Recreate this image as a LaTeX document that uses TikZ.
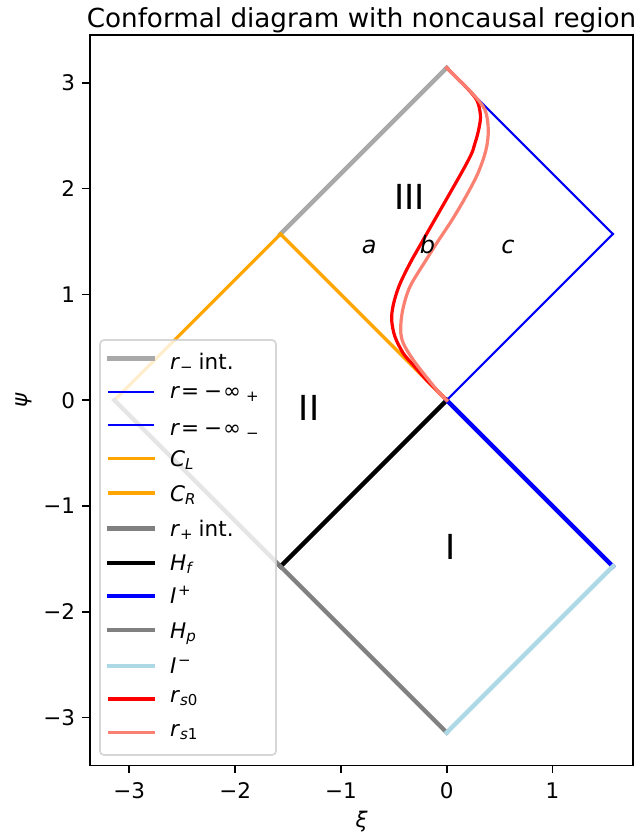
\documentclass[tikz,border=0pt]{standalone}
\usepackage{fontspec}
\setmainfont{DejaVu Sans}
\definecolor{mdarkgray}{HTML}{A9A9A9}
\definecolor{mgray}{HTML}{808080}
\definecolor{morange}{HTML}{FFA500}
\definecolor{mlightblue}{HTML}{ADD8E6}
\definecolor{msalmon}{HTML}{FA8072}
\definecolor{mblue}{HTML}{0000FF}
\definecolor{mred}{HTML}{FF0000}
\definecolor{legedge}{HTML}{CCCCCC}
\newcommand\lsb[1]{\raisebox{-3.2pt}{\fontsize{15}{15}\selectfont #1}}
\newcommand\lsp[1]{\raisebox{7.5pt}{\fontsize{15}{15}\selectfont #1}}
\begin{document}
\begin{tikzpicture}[x=1pt,y=-1pt,
  thickln/.style={line width=4.4pt, line cap=rect},
  medln/.style={line width=3.2pt, line cap=rect},
  thinln/.style={line width=2pt, line cap=rect},
  curveln/.style={line width=3.2pt, line join=round, line cap=rect},
  spine/.style={line width=1.7pt, line join=miter},
  tickln/.style={line width=1.7pt},
  ticklbl/.style={inner sep=0pt, font=\fontsize{21.5}{25}\selectfont},
  leglbl/.style={inner sep=0pt, anchor=base west, font=\fontsize{21.5}{25}\selectfont},
  region/.style={inner sep=0pt, anchor=base, font=\fontsize{34.5}{40}\selectfont},
  sublbl/.style={inner sep=0pt, anchor=base, font=\fontsize{24}{28}\selectfont\itshape},
]
\useasboundingbox (0,0) rectangle (638,838);
\fill[white] (0,0) rectangle (638,838);

% ---------- data ----------
\begin{scope}[shift={(446.7,400.2)}, x=105.8pt, y=105.8pt]
  \coordinate (O) at (0,0);
  \coordinate (T) at (0,3.14159);
  \coordinate (B) at (0,-3.14159);
  \coordinate (W) at (-3.14159,0);
  \coordinate (UL) at (-1.5708,1.5708);
  \coordinate (UR) at (1.5708,1.5708);
  \coordinate (LL) at (-1.5708,-1.5708);
  \coordinate (LR) at (1.5708,-1.5708);

  \draw[thickln, mdarkgray] (UL) -- (T);
  \draw[thinln, mblue] (T) -- (UR);
  \draw[thinln, mblue] (UR) -- (O);
  \draw[medln, morange] (W) -- (UL);
  \draw[medln, morange] (UL) -- (O);
  \draw[thickln, mgray] (W) -- (LL);
  \draw[thickln, black] (LL) -- (O);
  \draw[thickln, mblue] (O) -- (LR);
  \draw[thickln, mgray] (LL) -- (B);
  \draw[thickln, mlightblue] (B) -- (LR);

  \draw[curveln, mred] plot[smooth, tension=0.55] coordinates {(0,0) (-0.1,0.1) (-0.2,0.2) (-0.316,0.333) (-0.410,0.443) (-0.489,0.600) (-0.520,0.758) (-0.505,0.90) (-0.45,1.08) (-0.347,1.294) (-0.205,1.545) (0.189,2.239) (0.267,2.428) (0.308,2.585) (0.318,2.70) (0.284,2.837) (0.185,2.957) (0.1,3.0416) (0,3.14159)};
  \draw[curveln, msalmon] plot[smooth, tension=0.55] coordinates {(0,0) (-0.08,0.082) (-0.189,0.215) (-0.316,0.380) (-0.410,0.538) (-0.435,0.664) (-0.416,0.853) (-0.347,1.073) (-0.195,1.325) (-0.075,1.514) (0.05,1.703) (0.18,1.923) (0.295,2.145) (0.371,2.365) (0.393,2.554) (0.362,2.743) (0.245,2.897) (0.12,3.0216) (0,3.14159)};
\end{scope}

% region labels
\node[region] (rIII) at (409.5,209) {III};
\node[region] (rII) at (309,420.5) {II};
\node[region] (rI) at (451,559.5) {I};
\node[sublbl] (la) at (369.2,253.8) {a};
\node[sublbl] (lb) at (427.5,253.8) {b};
\node[sublbl] (lc) at (508,253.8) {c};

% ---------- axes ----------
\coordinate (axNW) at (90,35);
\coordinate (axSE) at (633.3,765.5);
\draw[spine] (axNW) rectangle (axSE);
\foreach \v/\xx in {-3/129.3,-2/235.1,-1/340.9,0/446.7,1/552.5} {
  \coordinate (xt\v) at (\xx,765.5);
  \coordinate (xe\v) at (\xx,773.1);
  \draw[tickln] (xt\v) -- (xe\v);
}
\node[ticklbl, anchor=base] (xl1) at (129.3,798.5) {−3};
\node[ticklbl, anchor=base] (xl2) at (235.1,798.5) {−2};
\node[ticklbl, anchor=base] (xl3) at (340.9,798.5) {−1};
\node[ticklbl, anchor=base] (xl4) at (446.7,798.5) {0};
\node[ticklbl, anchor=base] (xl5) at (552.5,798.5) {1};
\foreach \v/\yy in {3/82.8,2/188.6,1/294.4,0/400.2,m1/506,m2/611.8,m3/717.6} {
  \coordinate (yt\v) at (90,\yy);
  \coordinate (ye\v) at (82.4,\yy);
  \draw[tickln] (yt\v) -- (ye\v);
}
\node[ticklbl, anchor=base east] (yl1) at (75.3,90.65) {3};
\node[ticklbl, anchor=base east] (yl2) at (75.3,196.45) {2};
\node[ticklbl, anchor=base east] (yl3) at (75.3,302.25) {1};
\node[ticklbl, anchor=base east] (yl4) at (75.3,408.05) {0};
\node[ticklbl, anchor=base east] (yl5) at (75.3,513.85) {−1};
\node[ticklbl, anchor=base east] (yl6) at (75.3,619.65) {−2};
\node[ticklbl, anchor=base east] (yl7) at (75.3,725.45) {−3};
\node[ticklbl, anchor=north, font=\fontsize{21.5}{25}\selectfont\itshape] (xlab) at (361.7,811) {ξ};
\node[ticklbl, rotate=90, font=\fontsize{21.5}{25}\selectfont\itshape] (ylab) at (24,400.2) {ψ};
\node[inner sep=0pt, anchor=base, font=\fontsize{26.2}{30}\selectfont] (title) at (361.5,27.5) {Conformal diagram with noncausal region};

% ---------- legend ----------
\coordinate (lgNW) at (100,340);
\coordinate (lgSE) at (276,755);
\draw[draw=legedge, fill=white, opacity=0.8, rounded corners=4pt, line width=1.7pt] (lgNW) rectangle (lgSE);
\foreach \i/\yy/\sty/\col in {1/358.3/thickln/mdarkgray, 2/392.3/thinln/mblue, 3/425/thinln/mblue, 4/458.3/medln/morange, 5/493/medln/morange, 6/528.3/thickln/mgray, 7/562.7/thickln/black, 8/596/thickln/mblue, 9/629.7/thickln/mgray, 10/666/thickln/mlightblue, 11/699/medln/mred, 12/732.7/medln/msalmon} {
  \coordinate (ha\i) at (109.3,\yy);
  \coordinate (hb\i) at (153.2,\yy);
  \draw[\sty, \col] (ha\i) -- (hb\i);
}
\node[leglbl] (t1) at (170,369.3) {\textit{r}\lsb{−}\hspace{6pt}int.};
\node[leglbl] (t2) at (170,398.3) {\textit{r}\hspace{1pt}=\hspace{5pt}−\hspace{1pt}∞\hspace{5pt}\lsb{+}};
\node[leglbl] (t3) at (170,435) {\textit{r}\hspace{1pt}=\hspace{5pt}−\hspace{1pt}∞\hspace{5pt}\lsb{−}};
\node[leglbl] (t4) at (170,466.7) {\textit{C}\lsb{\textit{L}}};
\node[leglbl] (t5) at (170,501) {\textit{C}\lsb{\textit{R}}};
\node[leglbl] (t6) at (170,536.7) {\textit{r}\lsb{+}\hspace{6pt}int.};
\node[leglbl] (t7) at (170,570) {\textit{H}\lsb{\textit{f}}};
\node[leglbl] (t8) at (170,603.3) {\textit{I}\hspace{1.5pt}\lsp{+}};
\node[leglbl] (t9) at (170,638.3) {\textit{H}\lsb{\textit{p}}};
\node[leglbl] (t10) at (170,673.3) {\textit{I}\hspace{1.5pt}\lsp{−}};
\node[leglbl] (t11) at (170,702.7) {\textit{r}\lsb{\textit{s}0}};
\node[leglbl] (t12) at (170,736.4) {\textit{r}\lsb{\textit{s}1}};
\end{tikzpicture}
\end{document}
